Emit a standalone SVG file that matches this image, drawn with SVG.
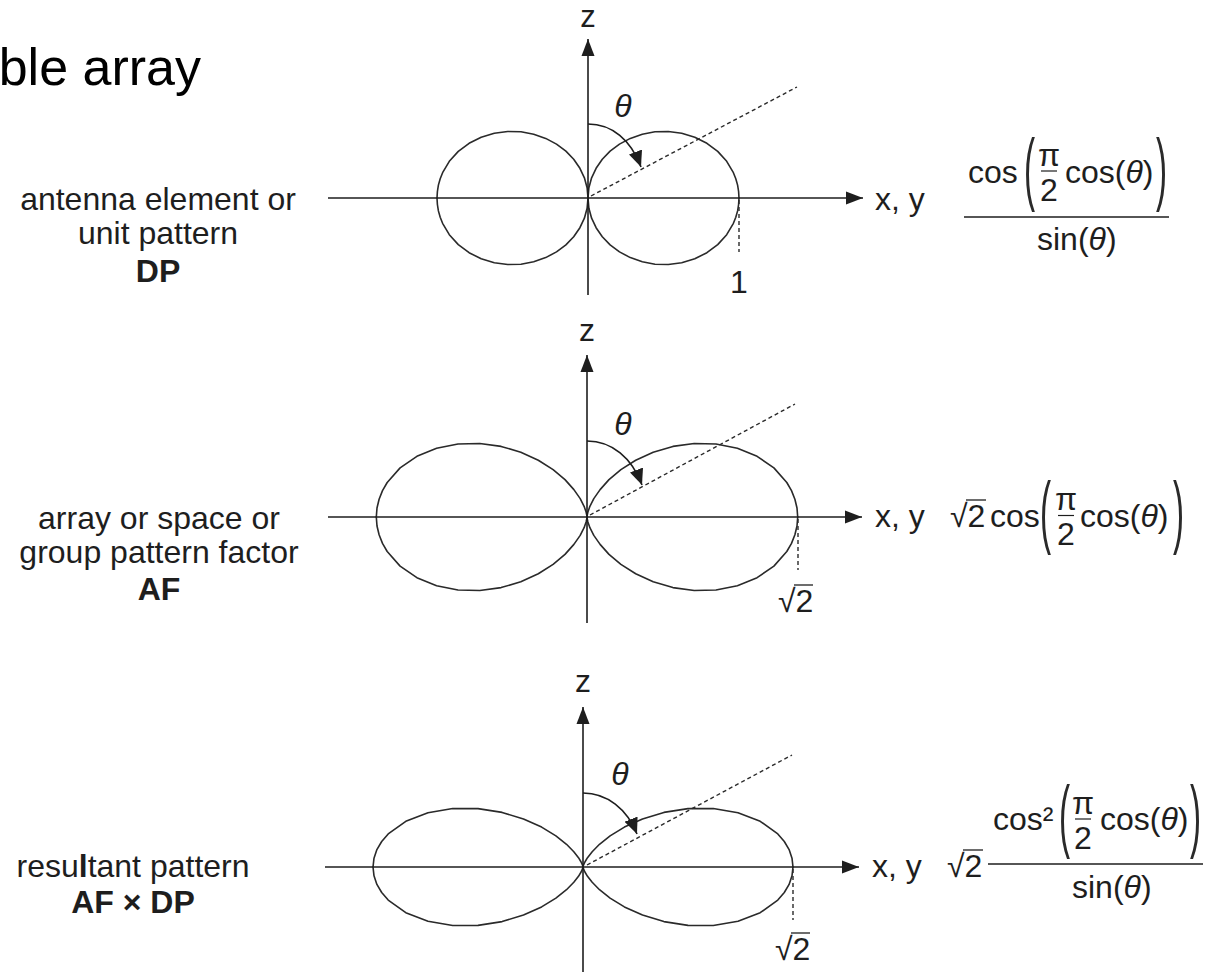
<svg xmlns="http://www.w3.org/2000/svg" xmlns:xlink="http://www.w3.org/1999/xlink" width="1220" height="973" viewBox="0 0 1220 973">
<style>
.ax{stroke:#1e1e1e;stroke-width:1.6;fill:none}
.lobe{stroke:#2a2a2a;stroke-width:1.6;fill:none;stroke-linejoin:round;stroke-linecap:round}
.dash{stroke:#2a2a2a;stroke-width:1.4;fill:none;stroke-dasharray:4 3}
.arc{stroke:#1e1e1e;stroke-width:1.6;fill:none}
.bar{stroke:#1e1e1e;stroke-width:1.6}
.t{font-family:"Liberation Sans",Arial,Helvetica,sans-serif;font-size:32px;fill:#1e1e1e}
.m{text-anchor:middle}
.b{font-weight:bold}
.i{font-style:italic}
.par{font-family:"Liberation Sans",Arial,Helvetica,sans-serif;font-size:79px;fill:#2a2a2a}
</style>
<defs>
<marker id="ah" markerUnits="userSpaceOnUse" markerWidth="18" markerHeight="14" refX="17" refY="7" orient="auto"><path d="M0,0.5 L17,7 L0,13.5 Z" fill="#1e1e1e"/></marker>
<marker id="ah2" markerUnits="userSpaceOnUse" markerWidth="17" markerHeight="14" refX="16" refY="7" orient="auto"><path d="M0,0 L16,7 L0,14 Z" fill="#1e1e1e"/></marker>
<path id="q1" d="M0,0 L0.9,-10.2 L3.6,-20.2 L8.1,-29.7 L14.3,-38.7 L22.1,-46.9 L31.5,-53.9 L42.3,-59.6 L54.3,-63.8 L67,-66.2 L80.3,-66.5 L93.7,-64.8 L106.8,-60.8 L118.9,-54.7 L129.7,-46.6 L138.7,-36.7 L145.4,-25.3 L147.8,-19.2 L149.6,-12.9 L150.6,-6.5 L151,0"/>
<path id="q2" d="M0,0 L0.1,-1.2 L0.9,-4.9 L2.9,-10.7 L6.8,-18.4 L13.1,-27.4 L22,-37.4 L33.9,-47.4 L48.7,-56.8 L66.2,-64.8 L85.9,-70.6 L107.2,-73.5 L129,-73 L150.4,-68.7 L170.1,-60.7 L186.9,-49.1 L199.8,-34.5 L204.5,-26.4 L207.9,-17.8 L210,-9 L210.7,0"/>
<path id="q3" d="M0,0 L0,-0.1 L0.1,-0.7 L0.6,-2.2 L1.9,-5 L4.5,-9.3 L9.2,-15.3 L16.5,-22.7 L27.1,-31.1 L41.4,-39.9 L59.5,-48 L80.9,-54.6 L105,-58.4 L130.3,-58.5 L155,-54.3 L177.2,-45.7 L194.8,-33.1 L201.3,-25.5 L206.1,-17.4 L209,-8.8 L210,0"/>
</defs>
<rect width="1220" height="973" fill="#fff"/>
<text id="title" x="201" y="85" font-family="Liberation Sans,Arial,Helvetica,sans-serif" font-size="52" text-anchor="end" fill="#000">ble array</text>

<!-- Panel 1: element pattern -->
<g id="panel-dp">
  <g class="t m">
    <text x="158" y="210">antenna element or</text>
    <text x="158" y="244">unit pattern</text>
    <text x="158" y="282" class="b">DP</text>
  </g>
  <g class="lobe" transform="translate(588,198)">
    <use xlink:href="#q1"/>
    <use xlink:href="#q1" transform="scale(1,-1)"/>
    <use xlink:href="#q1" transform="scale(-1,1)"/>
    <use xlink:href="#q1" transform="scale(-1,-1)"/>
  </g>
  <text class="t m" x="588" y="27" style="font-size:31px">z</text>
  <text class="t m i" x="623" y="117">θ</text>
  <text class="t" x="875" y="210">x, y</text>
  <text class="t m" x="739" y="293">1</text>
  <g id="formula-dp">
    <text class="t" x="968" y="183">cos</text>
    <text class="par" transform="translate(1024,195) scale(0.42,1)">(</text>
    <text class="t m" x="1049" y="166">π</text>
    <line class="bar" x1="1041" y1="171" x2="1057" y2="171" style="stroke-width:1.2"/>
    <text class="t m" x="1049" y="201">2</text>
    <text class="t" x="1065" y="183">cos(<tspan class="i">θ</tspan>)</text>
    <text class="par" transform="translate(1156,195) scale(0.42,1)">)</text>
    <line class="bar" x1="964" y1="217" x2="1169" y2="217"/>
    <text class="t" x="1037" y="250">sin(<tspan class="i">θ</tspan>)</text>
  </g>
</g>

<!-- Panel 2: array factor -->
<g id="panel-af">
  <g class="t m">
    <text x="159" y="529">array or space or</text>
    <text x="159" y="563">group pattern factor</text>
    <text x="159" y="600" class="b">AF</text>
  </g>
  <g class="lobe" transform="translate(587,517)">
    <use xlink:href="#q2"/>
    <use xlink:href="#q2" transform="scale(1,-1)"/>
    <use xlink:href="#q2" transform="scale(-1,1)"/>
    <use xlink:href="#q2" transform="scale(-1,-1)"/>
  </g>
  <text class="t m" x="587" y="341">z</text>
  <text class="t m i" x="623" y="435">θ</text>
  <text class="t" x="875" y="527">x, y</text>
  <text class="t" x="778" y="612">√2</text>
  <line class="bar" x1="794" y1="585" x2="813" y2="585" style="stroke-width:1.3"/>
  <g id="formula-af">
    <text class="t" x="950" y="527">√2</text>
    <line class="bar" x1="966" y1="500" x2="986" y2="500" style="stroke-width:1.3"/>
    <text class="t" x="990" y="527">cos</text>
    <text class="par" transform="translate(1040,538) scale(0.42,1)">(</text>
    <text class="t m" x="1066" y="510">π</text>
    <line class="bar" x1="1058" y1="515.5" x2="1074" y2="515.5" style="stroke-width:1.2"/>
    <text class="t m" x="1066" y="545">2</text>
    <text class="t" x="1080" y="527">cos(<tspan class="i">θ</tspan>)</text>
    <text class="par" transform="translate(1173,538) scale(0.42,1)">)</text>
  </g>
</g>

<!-- Panel 3: resultant -->
<g id="panel-res">
  <g class="t m">
    <text x="133" y="877">resu<tspan class="b">l</tspan>tant pattern</text>
    <text x="133" y="913" class="b">AF × DP</text>
  </g>
  <g class="lobe" transform="translate(583,867)">
    <use xlink:href="#q3"/>
    <use xlink:href="#q3" transform="scale(1,-1)"/>
    <use xlink:href="#q3" transform="scale(-1,1)"/>
    <use xlink:href="#q3" transform="scale(-1,-1)"/>
  </g>
  <text class="t m" x="583" y="692">z</text>
  <text class="t m i" x="620" y="785">θ</text>
  <text class="t" x="872" y="877">x, y</text>
  <text class="t" x="775" y="960">√2</text>
  <line class="bar" x1="791" y1="933" x2="810" y2="933" style="stroke-width:1.3"/>
  <g id="formula-res">
    <text class="t" x="947" y="877">√2</text>
    <line class="bar" x1="963" y1="850" x2="983" y2="850" style="stroke-width:1.3"/>
    <text class="t" x="993" y="830">cos²</text>
    <text class="par" transform="translate(1059,842) scale(0.42,1)">(</text>
    <text class="t m" x="1083" y="814">π</text>
    <line class="bar" x1="1075" y1="819" x2="1091" y2="819" style="stroke-width:1.2"/>
    <text class="t m" x="1083" y="849">2</text>
    <text class="t" x="1100" y="830">cos(<tspan class="i">θ</tspan>)</text>
    <text class="par" transform="translate(1190,842) scale(0.42,1)">)</text>
    <line class="bar" x1="988" y1="864" x2="1203" y2="864"/>
    <text class="t" x="1072" y="898">sin(<tspan class="i">θ</tspan>)</text>
  </g>
</g>

<!-- connectors: axes, angle lines, arcs -->
<g id="connectors">
  <line class="ax" x1="328" y1="198" x2="863" y2="198" marker-end="url(#ah)"/>
  <line class="ax" x1="588" y1="295" x2="588" y2="39" marker-end="url(#ah)"/>
  <path class="dash" d="M591,196 L797,87"/>
  <path class="dash" d="M739,200 L739,252"/>
  <path class="arc" d="M588,124 C612,124 631,140 641,167" marker-end="url(#ah2)"/>

  <line class="ax" x1="328" y1="517" x2="862" y2="517" marker-end="url(#ah)"/>
  <line class="ax" x1="587" y1="623" x2="587" y2="355" marker-end="url(#ah)"/>
  <path class="dash" d="M590,515 L795,404"/>
  <path class="dash" d="M798,519 L798,570"/>
  <path class="arc" d="M587,441 C612,441 632,458 642,485" marker-end="url(#ah2)"/>

  <line class="ax" x1="325" y1="867" x2="859" y2="867" marker-end="url(#ah)"/>
  <line class="ax" x1="583" y1="972" x2="583" y2="707" marker-end="url(#ah)"/>
  <path class="dash" d="M587,865 L792,755"/>
  <path class="dash" d="M793,869 L793,920"/>
  <path class="arc" d="M583,793 C607,793 627,809 637,834" marker-end="url(#ah2)"/>
</g>
</svg>
